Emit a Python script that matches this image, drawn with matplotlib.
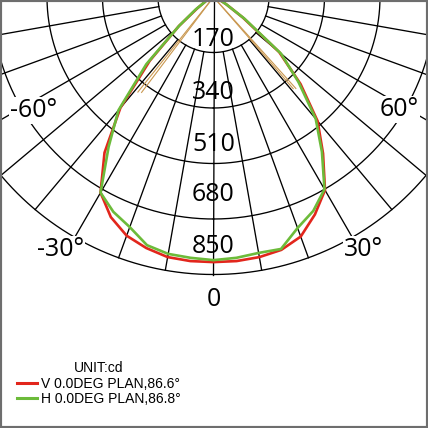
import numpy as np
import matplotlib
matplotlib.use("Agg")
import matplotlib.pyplot as plt
from matplotlib.lines import Line2D
from matplotlib.patches import Rectangle

# Candela distribution, 5 degree steps (-90 .. 90)
angles = np.arange(-90, 91, 5)
v_plane = [0, 3, 6, 9, 15, 21, 31, 61, 138, 276, 444, 582, 692, 744, 778, 796, 809, 812,
           812,
           812, 809, 802, 781, 735, 683, 585, 496, 377, 263, 110, 46, 21, 12, 9, 6, 3, 0]
h_plane = [0, 3, 6, 9, 15, 25, 31, 67, 138, 291, 453, 560, 692, 726, 750, 787, 799, 802,
           806,
           802, 796, 799, 753, 723, 680, 579, 487, 368, 270, 116, 46, 21, 12, 9, 6, 3, 0]

ring_values = [170, 340, 510, 680, 850]
ring_label_r = [129, 293, 451, 606, 765]
ray_angles = np.arange(-90, 91, 10)
angle_labels = ['-60°', '-30°', '0', '30°', '60°']
angle_label_pos = [(-57.8, 652), (-31.2, 903), (0, 926), (30.7, 898), (58.9, 666)]

# half-beam lines (angle, cd)
beam_lines = [(-38.5, 372), (-37.0, 366), (42.0, 377), (41.0, 372)]

red = '#e2261c'
green = '#6cbb3a'
brown = '#c9974f'

W = 428
px_per_cd = 55.5 / 170
rmax = 870
cx, cy = 213.5, -3  # centre in pixels from top-left
R = rmax * px_per_cd

fig = plt.figure(figsize=(4.28, 4.28), dpi=100)
ax = fig.add_axes([(cx - R) / W, (W - cy - R) / W, 2 * R / W, 2 * R / W], projection='polar')
ax.set_theta_zero_location('S')
ax.set_theta_direction(1)
ax.set_ylim(0, rmax)
ax.grid(False)
ax.set_xticks([])
ax.set_yticks([])
ax.spines['polar'].set_visible(False)

# grid circles and rays
th = np.linspace(0, 2 * np.pi, 721)
for rv in ring_values:
    ax.plot(th, np.full_like(th, rv), color='black', lw=0.95, zorder=1)
for a in ray_angles:
    start = 0 if a == 0 else ring_values[0]
    ax.plot([np.radians(a)] * 2, [start, ring_values[-1]], color='black', lw=0.95, zorder=1)

# beam angle lines
for a, r in beam_lines:
    ax.plot([np.radians(a)] * 2, [0, r], color=brown, lw=0.8, zorder=2)

# curves
ax.plot(np.radians(angles), v_plane, color=red, lw=1.9, zorder=3)
ax.plot(np.radians(angles), h_plane, color=green, lw=1.9, zorder=4)

# labels
for v, r in zip(ring_values, ring_label_r):
    ax.text(0, r, str(v), ha='center', va='center', fontsize=18, family='Open Sans', zorder=5)
for lab, (a, r) in zip(angle_labels, angle_label_pos):
    ax.text(np.radians(a), r, lab, ha='center', va='center', fontsize=18, family='Open Sans',
            zorder=6, bbox=dict(fc='white', ec='none', pad=0.6))

# legend
handles = [Line2D([], [], color=red, lw=2.2), Line2D([], [], color=green, lw=2.2)]
leg = fig.legend(handles, ['V 0.0DEG PLAN,86.6°', 'H 0.0DEG PLAN,86.8°'], title='UNIT:cd',
                 loc='upper left', bbox_to_anchor=(16.5 / W, (W - 361) / W), frameon=False,
                 prop={'family': 'Liberation Sans', 'size': 10}, title_fontsize=10,
                 handlelength=1.45, handletextpad=0.3, labelspacing=0.12, borderpad=0,
                 borderaxespad=0)
leg.get_title().set_family('Liberation Sans')

# image frame
fig.patches.append(Rectangle((0, 0), 1, 1, transform=fig.transFigure, fill=False,
                             edgecolor='#6e6e6e', lw=3))

fig.savefig('out.png', dpi=100)
